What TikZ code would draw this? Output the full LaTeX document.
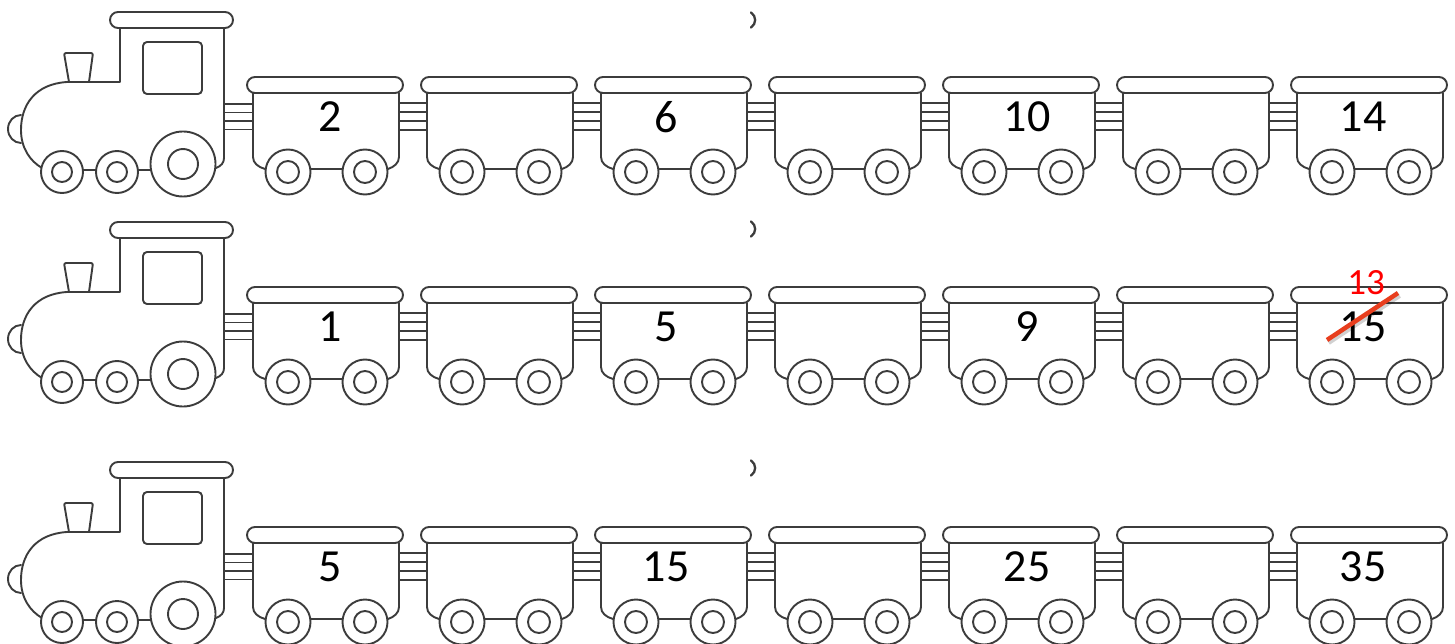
\documentclass[tikz,border=0pt]{standalone}
\usepackage{fontspec}
\setmainfont{Carlito}
\definecolor{ink}{RGB}{60,60,60}
\definecolor{strike}{RGB}{232,62,30}
\tikzset{
  outline/.style={draw=ink,line width=1.9pt,line cap=round,line join=round},
  wheelring/.style={outline,fill=white},
  coupler/.style={draw=ink,line width=1.5pt},
  numlabel/.style={inner sep=0pt,font=\fontsize{46}{50}\selectfont,text=black},
  redlabel/.style={inner sep=0pt,font=\fontsize{37}{42}\selectfont,text=red},
  loco/.pic={
    % coupling to first wagon
    \foreach \yy in {104,112.5,121,129.5} \draw[coupler] (224,\yy) -- (253,\yy);
    % body
    \draw[outline] (120,28) -- (120,82) -- (67,82)
      .. controls (35,84) and (21,105) .. (21,130)
      .. controls (21,148) and (30,161) .. (42,168);
    \draw[outline] (224,28) -- (224,158) .. controls (224,163) and (221,166) .. (216,168);
    % buffer
    \draw[outline] (21,143) arc[start angle=90,end angle=270,x radius=13,y radius=14];
    % chimney
    \draw[outline,rounded corners=2pt] (69,82) -- (64,53) -- (93,53) -- (89,82);
    % roof and window
    \draw[outline,fill=white,rounded corners=8pt] (110,12) rectangle (233,28);
    \draw[outline,rounded corners=4pt] (143,42) rectangle (202,94);
    % axle
    \draw[outline] (62,170) -- (183,170);
    % wheels
    \draw[wheelring] (62,172) circle[radius=21];
    \draw[outline] (62,172) circle[radius=10];
    \draw[wheelring] (117,172) circle[radius=21];
    \draw[outline] (117,172) circle[radius=10];
    \draw[wheelring] (183,164) circle[radius=32.5];
    \draw[outline] (183,164) circle[radius=15];
  },
  wagon/.pic={
    \draw[outline] (253,93) -- (253,157) .. controls (253,163) and (258,167) .. (265,169);
    \draw[outline] (399,93) -- (399,157) .. controls (399,163) and (394,167) .. (388,169);
    \draw[outline,fill=white,rounded corners=8pt] (247,77) rectangle (403,93);
    \draw[outline] (288,169) -- (365,169);
    \draw[wheelring] (288,172) circle[radius=22.5];
    \draw[outline] (288,172) circle[radius=11];
    \draw[wheelring] (365,172) circle[radius=22.5];
    \draw[outline] (365,172) circle[radius=11];
  },
  link/.pic={
    \foreach \yy in {103,112,121,130} \draw[coupler] (399,\yy) -- (427,\yy);
  },
  tick/.pic={
    \draw[draw=ink,line width=2.3pt,line cap=round] (751,12.5) .. controls (756.5,16) and (756.5,24) .. (751,27.5);
  }
}
\begin{document}
\begin{tikzpicture}[x=1pt,y=-1pt]
\useasboundingbox[fill=white] (0,0) rectangle (1455,644);
\foreach \dy/\tdy in {0/0,210/209,450/448} {
  \pic at (0,\dy) {loco};
  \foreach \i in {0,...,6} {
    \pic at (174*\i,\dy) {wagon};
  }
  \foreach \i in {0,...,5} {
    \pic at (174*\i,\dy) {link};
  }
  \pic at (0,\tdy) {tick};
}
% numbers, row 1
\node[numlabel] (a1) at (330,117) {2};
\node[numlabel] (a3) at (666,117) {6};
\node[numlabel] (a5) at (1027,117) {10};
\node[numlabel] (a7) at (1363,117) {14};
% row 2
\node[numlabel] (b1) at (330,327) {1};
\node[numlabel] (b3) at (666,327) {5};
\node[numlabel] (b5) at (1027,327) {9};
\node[numlabel] (b7) at (1363,327) {15};
% row 3
\node[numlabel] (c1) at (330,567) {5};
\node[numlabel] (c3) at (666,567) {15};
\node[numlabel] (c5) at (1027,567) {25};
\node[numlabel] (c7) at (1363,567) {35};
% correction
\node[redlabel] (fix) at (1366,283) {13};
\coordinate (s1) at (1327,340);
\coordinate (s2) at (1398,293);
\draw[black,opacity=0.18,line width=5pt] ([shift={(1.5,2.5)}]s1) -- ([shift={(1.5,2.5)}]s2);
\draw[strike,line width=4.5pt] (s1) -- (s2);
\end{tikzpicture}
\end{document}
